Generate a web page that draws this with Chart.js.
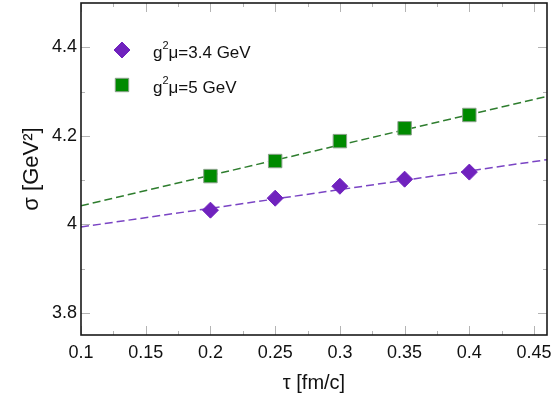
<!DOCTYPE html>
<html>
<head>
<meta charset="utf-8">
<script src="https://cdn.jsdelivr.net/npm/chart.js@4.4.0/dist/chart.umd.min.js"></script>
<style>
    html, body { margin: 0; padding: 0; background: #fff; }
    #wrap { width: 558px; height: 400px; }
</style>
</head>
<body>
<div id="wrap"><canvas id="sigmaChart"></canvas></div>
<script>
// values
const tau = [0.2, 0.25, 0.3, 0.35, 0.4];
const sigmaLow = [4.032, 4.059, 4.086, 4.102, 4.118];   // g^2 mu = 3.4 GeV
const sigmaHigh = [4.109, 4.143, 4.188, 4.217, 4.247];  // g^2 mu = 5 GeV
const fitTau = [0.1, 0.46];
const fitLow = [3.994, 4.146];
const fitHigh = [4.042, 4.289];
const xTicks = [0.1, 0.15, 0.2, 0.25, 0.3, 0.35, 0.4, 0.45];
const xMinor = [0.125, 0.175, 0.225, 0.275, 0.325, 0.375, 0.425];
const yTicks = [3.8, 4.0, 4.2, 4.4];
const yMinor = [3.9, 4.1, 4.3];
const seriesLabels = ['g²μ=3.4 GeV', 'g²μ=5 GeV'];

const PURPLE = '#7022be';
const GREEN = '#008a00';
const FONT = '"Liberation Sans", Arial, sans-serif';

const toPoints = (xs, ys) => xs.map((x, i) => ({ x: x, y: ys[i] }));
const plainNum = v => String(+Number(v).toFixed(3));

// inward ticks on all four sides + the frame
const frameTicks = {
    id: 'frameTicks',
    afterDatasetsDraw(chart) {
        const { ctx, chartArea: a, scales: { x, y } } = chart;
        ctx.save();
        ctx.strokeStyle = '#b4b4b4';
        ctx.lineWidth = 1;
        const seg = (x1, y1, x2, y2) => { ctx.beginPath(); ctx.moveTo(x1, y1); ctx.lineTo(x2, y2); ctx.stroke(); };
        const onX = (vals, len) => vals.forEach(v => {
            const px = Math.round(x.getPixelForValue(v)) + 0.5;
            seg(px, a.bottom, px, a.bottom - len);
            seg(px, a.top, px, a.top + len);
        });
        const onY = (vals, len) => vals.forEach(v => {
            const py = Math.round(y.getPixelForValue(v)) + 0.5;
            seg(a.left, py, a.left + len, py);
            seg(a.right, py, a.right - len, py);
        });
        onX(xTicks, 9); onX(xMinor, 4);
        onY(yTicks, 9); onY(yMinor, 4);
        ctx.strokeStyle = '#1a1a1a';
        ctx.lineWidth = 1.6;
        ctx.strokeRect(a.left, a.top, a.right - a.left, a.bottom - a.top);
        ctx.restore();
    }
};

// legend drawn inside the plot, with a raised "2"
const innerLegend = {
    id: 'innerLegend',
    afterDraw(chart) {
        const { ctx, chartArea: a } = chart;
        ctx.save();
        [0, 1].forEach(i => {
            const ds = chart.data.datasets[i];
            const mx = a.left + 41, my = a.top + 47 + i * 35;
            ctx.fillStyle = ds.backgroundColor;
            ctx.strokeStyle = ds.borderColor;
            Chart.helpers.drawPoint(ctx, {
                pointStyle: ds.pointStyle, radius: ds.pointRadius, borderWidth: ds.borderWidth, rotation: 0
            }, mx, my);

            const parts = ds.label.split('²');
            let tx = a.left + 72;
            const base = my + 8;
            ctx.fillStyle = '#111';
            ctx.textBaseline = 'alphabetic';
            ctx.font = '17px ' + FONT;
            ctx.fillText(parts[0], tx, base);
            tx += ctx.measureText(parts[0]).width;
            ctx.font = '11px ' + FONT;
            ctx.fillText('2', tx, base - 9);
            tx += ctx.measureText('2').width;
            ctx.font = '17px ' + FONT;
            ctx.fillText(parts[1], tx, base);
        });
        ctx.restore();
    }
};

new Chart(document.getElementById('sigmaChart'), {
    type: 'scatter',
    data: {
        datasets: [
            {
                label: seriesLabels[0],
                data: toPoints(tau, sigmaLow),
                pointStyle: 'rectRot',
                pointRadius: 8,
                backgroundColor: PURPLE,
                borderColor: PURPLE,
                borderWidth: 1
            },
            {
                label: seriesLabels[1],
                data: toPoints(tau, sigmaHigh),
                pointStyle: 'rect',
                pointRadius: 9.5,
                backgroundColor: GREEN,
                borderColor: '#8aa08a',
                borderWidth: 1
            },
            {
                label: 'fit 3.4',
                type: 'line',
                data: toPoints(fitTau, fitLow),
                borderColor: '#7a44c4',
                borderWidth: 1.5,
                borderDash: [8, 4],
                pointRadius: 0,
                fill: false
            },
            {
                label: 'fit 5',
                type: 'line',
                data: toPoints(fitTau, fitHigh),
                borderColor: '#2e7d2e',
                borderWidth: 1.5,
                borderDash: [8, 4],
                pointRadius: 0,
                fill: false
            }
        ]
    },
    options: {
        responsive: true,
        maintainAspectRatio: false,
        animation: false,
        layout: { autoPadding: false, padding: { top: 3, right: 11, left: 0, bottom: 0 } },
        plugins: {
            legend: { display: false },
            tooltip: { enabled: false }
        },
        scales: {
            x: {
                type: 'linear',
                min: 0.1,
                max: 0.46,
                afterBuildTicks: s => { s.ticks = xTicks.map(v => ({ value: v })); },
                afterFit: s => { s.height = 65; s.paddingLeft = 0; s.paddingRight = 0; },
                grid: { display: false, drawTicks: false },
                border: { display: false },
                ticks: {
                    color: '#111',
                    font: { family: FONT, size: 18 },
                    padding: 7,
                    maxRotation: 0,
                    autoSkip: false,
                    callback: plainNum
                },
                title: {
                    display: true,
                    text: 'τ [fm/c]',
                    color: '#111',
                    font: { family: FONT, size: 20 },
                    padding: { top: 0, bottom: 5 }
                }
            },
            y: {
                type: 'linear',
                min: 3.75,
                max: 4.5,
                afterBuildTicks: s => { s.ticks = yTicks.map(v => ({ value: v })); },
                afterFit: s => { s.width = 81; s.paddingTop = 0; s.paddingBottom = 0; },
                grid: { display: false, drawTicks: false },
                border: { display: false },
                ticks: {
                    color: '#111',
                    font: { family: FONT, size: 18 },
                    padding: 4,
                    autoSkip: false,
                    callback: plainNum
                },
                title: {
                    display: true,
                    text: 'σ [GeV²]',
                    color: '#111',
                    font: { family: FONT, size: 22 },
                    padding: { top: 19, bottom: 0 }
                }
            }
        }
    },
    plugins: [frameTicks, innerLegend]
});
</script>
</body>
</html>
